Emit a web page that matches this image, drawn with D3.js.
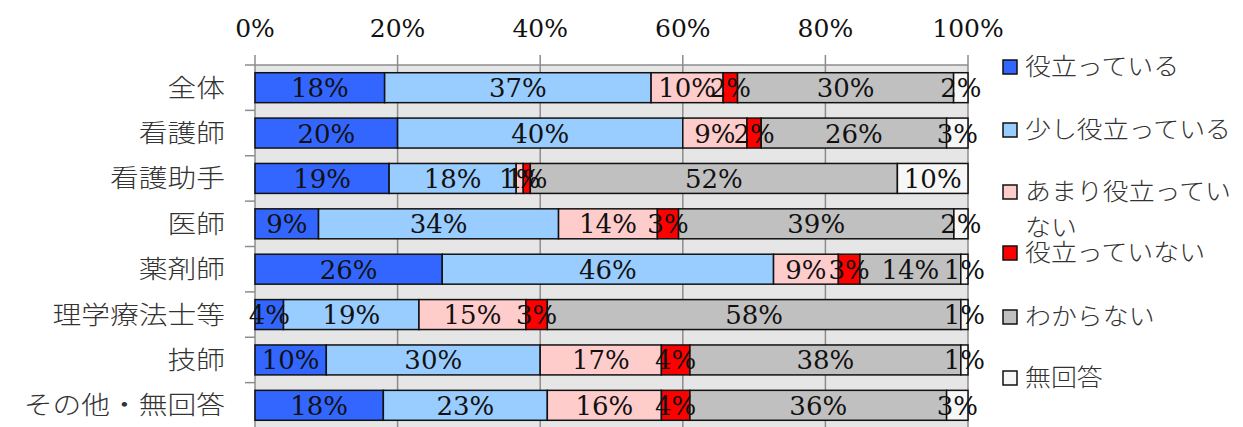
<!DOCTYPE html>
<html>
<head>
<meta charset="utf-8">
<script src="https://cdn.jsdelivr.net/npm/d3@7"></script>
<style>
  body { margin: 0; background: #ffffff; }
  svg { display: block; }
</style>
</head>
<body>
<svg id="chart" width="1243" height="427"></svg>
<script>
// categories (top to bottom)
var categories = ['全体', '看護師', '看護助手', '医師', '薬剤師', '理学療法士等', '技師', 'その他・無回答'];
var seriesNames = ['役立っている', '少し役立っている', 'あまり役立っていない', '役立っていない', 'わからない', '無回答'];
var seriesColors = ['#3366ff', '#99ccff', '#ffcccc', '#ff0000', '#c0c0c0', '#f7f7f7'];

// percent values per series, same order as categories
var useful      = [18, 20, 19,  9, 26,  4, 10, 18];
var bitUseful   = [37, 40, 18, 34, 46, 19, 30, 23];
var notVery     = [10,  9,  1, 14,  9, 15, 17, 16];
var notUseful   = [ 2,  2,  1,  3,  3,  3,  4,  4];
var dontKnow    = [30, 26, 52, 39, 14, 58, 38, 36];
var noAnswer    = [ 2,  3, 10,  2,  1,  1,  1,  3];

var xTicks = [0, 0.2, 0.4, 0.6, 0.8, 1];

var seriesValues = [useful, bitUseful, notVery, notUseful, dontKnow, noAnswer];

var rows = categories.map(function (c, i) {
    var r = {cat: c};
    seriesNames.forEach(function (s, j) { r[s] = seriesValues[j][i]; });
    return r;
});

var margin = {top: 65, left: 255, right: 275, bottom: -1};
var svgW = 1243, svgH = 427;
var width = svgW - margin.left - margin.right;   // 713
var height = 363;

var svg = d3.select('#chart');
var g = svg.append('g')
    .attr('transform', 'translate(' + margin.left + ',' + margin.top + ')');

var x = d3.scaleLinear().domain([0, 1]).range([0, width]);
var y = d3.scaleBand().domain(categories).range([0, height]).paddingInner(0.34).paddingOuter(0.17);

var stack = d3.stack().keys(seriesNames).offset(d3.stackOffsetExpand);
var stacked = stack(rows);

// plot background
g.append('rect')
    .attr('x', 0).attr('y', 0)
    .attr('width', width).attr('height', height + 5)
    .attr('fill', '#e6e6e6');

// gridlines + top tick marks
g.selectAll('.grid')
    .data(xTicks)
    .enter().append('line')
    .attr('class', 'grid')
    .attr('x1', d => x(d)).attr('x2', d => x(d))
    .attr('y1', -10).attr('y2', height + 5)
    .attr('stroke', '#8c8c8c')
    .attr('stroke-width', 1.5);

// top axis line
g.append('line')
    .attr('x1', 0).attr('x2', width)
    .attr('y1', 0).attr('y2', 0)
    .attr('stroke', '#8c8c8c')
    .attr('stroke-width', 1.5);

// left tick marks at band boundaries
var step = y.step();
g.selectAll('.ltick')
    .data(d3.range(categories.length + 1))
    .enter().append('line')
    .attr('class', 'ltick')
    .attr('x1', -10).attr('x2', 0)
    .attr('y1', d => d * step).attr('y2', d => d * step)
    .attr('stroke', '#8c8c8c')
    .attr('stroke-width', 1.5);

// top tick labels
g.selectAll('.xlab')
    .data(xTicks)
    .enter().append('text')
    .attr('class', 'xlab')
    .attr('x', d => x(d))
    .attr('y', -28)
    .attr('text-anchor', 'middle')
    .style('font-family', '"DejaVu Serif", serif')
    .style('font-size', '25px')
    .attr('fill', '#111')
    .text(d => Math.round(d * 100) + '%');

// category labels
g.selectAll('.ylab')
    .data(categories)
    .enter().append('text')
    .attr('class', 'ylab')
    .attr('transform', d => 'translate(-30,' + (y(d) + y.bandwidth() / 2 + 9) + ') scale(1.15,1)')
    .attr('text-anchor', 'end')
    .style('font-family', '"Noto Sans CJK JP", sans-serif')
    .style('font-size', '25px')
    .style('font-weight', 300)
    .attr('fill', '#333')
    .text(d => d);

// bars
var layers = g.selectAll('.layer')
    .data(stacked)
    .enter().append('g')
    .attr('class', 'layer')
    .attr('fill', (d, i) => seriesColors[i]);

layers.selectAll('rect')
    .data(d => d)
    .enter().append('rect')
    .attr('x', d => x(d[0]))
    .attr('y', d => y(d.data.cat))
    .attr('width', d => x(d[1]) - x(d[0]))
    .attr('height', y.bandwidth())
    .attr('stroke', '#111')
    .attr('stroke-width', 1.5);

// value labels
stacked.forEach(function (layer) {
    g.selectAll(null)
        .data(layer)
        .enter().append('text')
        .attr('x', d => x((d[0] + d[1]) / 2))
        .attr('y', d => y(d.data.cat) + y.bandwidth() / 2 + 9.5)
        .attr('text-anchor', 'middle')
        .style('font-family', '"DejaVu Serif", serif')
        .style('font-size', '26px')
        .attr('fill', '#111')
        .text(d => d.data[layer.key] + '%');
});

// legend
var legend = svg.append('g').attr('transform', 'translate(1003,0)');
var legendY = [67, 130, 192, 253, 317, 378];
seriesNames.forEach(function (s, i) {
    var lg = legend.append('g').attr('transform', 'translate(0,' + legendY[i] + ')');
    lg.append('rect')
        .attr('x', 0).attr('y', -7)
        .attr('width', 14).attr('height', 14)
        .attr('fill', seriesColors[i])
        .attr('stroke', '#111')
        .attr('stroke-width', 1.5);
    var lines = s.length > 8 ? [s.slice(0, 8), s.slice(8)] : [s];
    var t = lg.append('text')
        .attr('transform', 'translate(22,8) scale(1.08,1)')
        .style('font-family', '"Noto Sans CJK JP", sans-serif')
        .style('font-size', '24px')
        .style('font-weight', 300)
        .attr('fill', '#333');
    lines.forEach(function (ln, k) {
        t.append('tspan')
            .attr('x', 0)
            .attr('dy', k === 0 ? 0 : 36)
            .text(ln);
    });
});
</script>
</body>
</html>
